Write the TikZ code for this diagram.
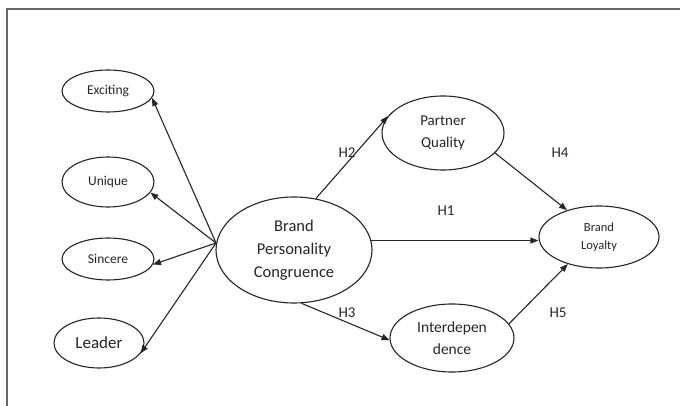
\documentclass[tikz,border=0pt]{standalone}
\usepackage{fontspec}
\setmainfont{Carlito}
\usetikzlibrary{shapes.geometric,arrows.meta}
\begin{document}
\begin{tikzpicture}[x=1pt,y=-1pt,
  ell/.style={ellipse,draw=black!85,line width=1.1pt,inner sep=0pt,align=center,text=black!85},
  arr/.style={draw=black!85,line width=1.1pt,-{Triangle[length=8pt,width=6pt]}},
  hlab/.style={font=\fontsize{15}{18}\selectfont,text=black!85}]
\useasboundingbox (0,0) rectangle (680,406);
\fill[white] (0,0) rectangle (680,406);
\begin{scope}
\clip (0,0) rectangle (680,406);
\draw[black!60,line width=2pt] (7,420) -- (7,9) -- (690,9);
\end{scope}
% left constructs
\node[ell,minimum width=92pt,minimum height=42pt,font=\fontsize{13.5}{16}\selectfont] (exc) at (108,91) {Exciting};
\node[ell,minimum width=92pt,minimum height=50pt,font=\fontsize{13.5}{16}\selectfont] (uni) at (108,182) {Unique};
\node[ell,minimum width=92pt,minimum height=42pt,font=\fontsize{13.5}{16}\selectfont] (sin) at (108,259) {Sincere};
\node[ell,minimum width=90pt,minimum height=50pt,font=\fontsize{17}{20}\selectfont] (lea) at (99,343) {Leader};
% main constructs
\node[ell,minimum width=156pt,minimum height=106pt,font=\fontsize{16.5}{23}\selectfont] (bpc) at (294,250) {Brand\\Personality\\Congruence};
\node[ell,minimum width=122pt,minimum height=74pt,font=\fontsize{15}{22}\selectfont] (pq) at (443,133) {Partner\\Quality};
\node[ell,minimum width=120pt,minimum height=62pt,font=\fontsize{12.5}{18}\selectfont] (bl) at (599,237) {Brand\\Loyalty};
\node[ell,minimum width=124pt,minimum height=68pt,font=\fontsize{15.5}{22}\selectfont] (idp) at (452,338) {Interdepen\\dence};
% hub
\coordinate (hub) at (216,243);
\draw[arr] (hub) -- (exc.-9);
\draw[arr] (hub) -- (uni.-14);
\draw[arr] (hub) -- (sin.-7);
\draw[arr] (hub) -- (lea.-14);
% hypotheses
\draw[arr] (bpc.67) -- (pq.163);
\draw[arr] (bpc.7) -- (bpc.7 -| bl.west);
\draw[arr] (bpc.278) -- (idp.182);
\draw[arr] (pq.-21) -- (bl.140);
\draw[arr] (idp.14) -- (bl.221);
% labels
\node[hlab] (h2) at (347,153) {H2};
\node[hlab] (h1) at (446,211) {H1};
\node[hlab] (h3) at (347,313) {H3};
\node[hlab] (h4) at (560,153) {H4};
\node[hlab] (h5) at (558,313) {H5};
\end{tikzpicture}
\end{document}
